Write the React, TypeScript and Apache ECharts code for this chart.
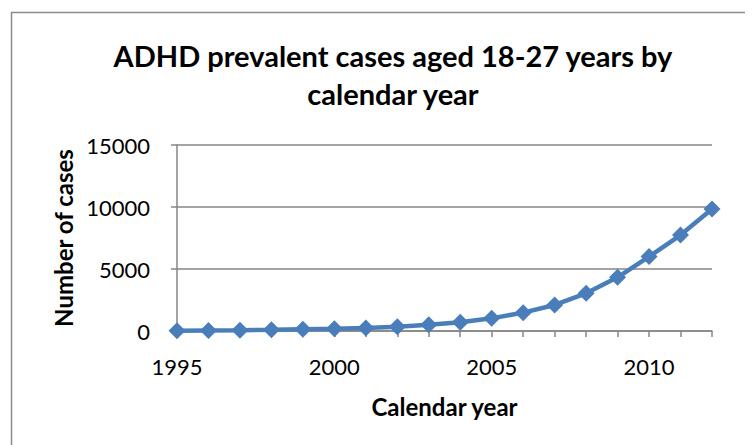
import React, { useEffect, useRef } from "react";
import * as echarts from "echarts";

const years = ["1995","1996","1997","1998","1999","2000","2001","2002","2003","2004","2005","2006","2007","2008","2009","2010","2011","2012"];
const cases = [20, 40, 60, 100, 150, 190, 240, 350, 510, 700, 1020, 1480, 2100, 3040, 4330, 6000, 7740, 9840];
const yTicks = [0, 5000, 10000, 15000];

export default function App() {
  const ref = useRef<HTMLDivElement>(null);
  useEffect(() => {
    const chart = echarts.init(ref.current!, null, { renderer: "svg" });
    const font = "Lato, 'Open Sans', sans-serif";
    chart.setOption({
      animation: false,
      backgroundColor: "#fff",
      graphic: [
        { type: "rect", shape: { x: 3.5, y: 4.5, width: 900, height: 600 }, style: { fill: "none", stroke: "#8c8c8c", lineWidth: 1.5 }, silent: true },
      ],
      title: {
        text: "ADHD prevalent cases aged 18-27 years by\ncalendar year",
        left: 380,
        textAlign: "center",
        top: 23,
        textStyle: { fontFamily: font, fontWeight: "bold", fontSize: 29, lineHeight: 38, color: "#000" },
      },
      grid: { left: 169, right: 41, top: 137, bottom: 114, containLabel: false },
      xAxis: {
        type: "category",
        data: years,
        boundaryGap: false,
        name: "Calendar year",
        nameLocation: "middle",
        nameGap: 63,
        nameTextStyle: { fontFamily: font, fontWeight: "bold", fontSize: 24, color: "#000" },
        axisLine: { lineStyle: { color: "#868686", width: 1.5 } },
        axisTick: { show: true, interval: 0, length: 6, inside: false, lineStyle: { color: "#868686", width: 1.5 } },
        axisLabel: { interval: 4, margin: 24, fontFamily: font, fontSize: 22, color: "#000" },
        splitLine: { show: false },
      },
      yAxis: {
        type: "value",
        min: yTicks[0],
        max: yTicks[yTicks.length - 1],
        interval: 5000,
        name: "Number of cases",
        nameLocation: "middle",
        nameGap: 102,
        nameRotate: 90,
        nameTextStyle: { fontFamily: font, fontWeight: "bold", fontSize: 24, color: "#000" },
        axisLine: { show: true, lineStyle: { color: "#868686", width: 1.5 } },
        axisTick: { show: true, length: 6, lineStyle: { color: "#868686", width: 1.5 } },
        axisLabel: { margin: 27, fontFamily: font, fontSize: 22, color: "#000", formatter: (v: number) => String(v) },
        splitLine: { show: true, lineStyle: { color: "#868686", width: 1.5 } },
      },
      series: [
        {
          type: "line",
          data: cases,
          symbol: "diamond",
          symbolSize: 17,
          lineStyle: { color: "#4a7ebb", width: 4.5 },
          itemStyle: { color: "#4a7ebb" },
        },
      ],
    });
    return () => chart.dispose();
  }, []);
  return <div ref={ref} style={{ width: 745, height: 437 }} />;
}
